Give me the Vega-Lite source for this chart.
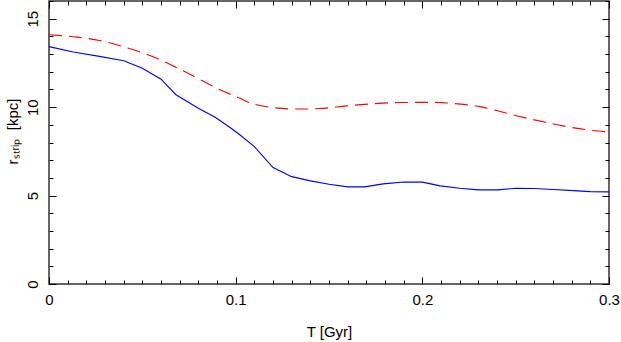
{
  "$schema": "https://vega.github.io/schema/vega-lite/v6.json",
  "width": 560,
  "height": 283,
  "autosize": "none",
  "padding": {"left": 49, "top": 1, "right": 12, "bottom": 58},
  "background": "white",
  "config": {
    "view": {"stroke": "#333", "strokeWidth": 1.5},
    "font": "Liberation Sans",
    "axis": {
      "grid": false,
      "domain": false,
      "tickColor": "#000",
      "tickWidth": 1,
      "labelFont": "Liberation Sans",
      "labelFontSize": 15,
      "labelColor": "#000",
      "titleFont": "Liberation Sans",
      "titleFontSize": 15,
      "titleFontWeight": "normal",
      "titleColor": "#000"
    }
  },
  "datasets": {
    "blue": [
      {"t": 0, "r": 13.42}, {"t": 0.013, "r": 13.12}, {"t": 0.027, "r": 12.87},
      {"t": 0.04, "r": 12.62}, {"t": 0.05, "r": 12.2}, {"t": 0.06, "r": 11.58},
      {"t": 0.068, "r": 10.7}, {"t": 0.08, "r": 9.94}, {"t": 0.089, "r": 9.43},
      {"t": 0.097, "r": 8.85}, {"t": 0.102, "r": 8.45}, {"t": 0.11, "r": 7.77},
      {"t": 0.12, "r": 6.58}, {"t": 0.13, "r": 6.07}, {"t": 0.14, "r": 5.83},
      {"t": 0.15, "r": 5.64}, {"t": 0.16, "r": 5.49}, {"t": 0.169, "r": 5.49},
      {"t": 0.179, "r": 5.66}, {"t": 0.19, "r": 5.77}, {"t": 0.2, "r": 5.76},
      {"t": 0.2095, "r": 5.55}, {"t": 0.22, "r": 5.41}, {"t": 0.23, "r": 5.32},
      {"t": 0.2405, "r": 5.32}, {"t": 0.25, "r": 5.41}, {"t": 0.26, "r": 5.4},
      {"t": 0.27, "r": 5.34}, {"t": 0.281, "r": 5.28}, {"t": 0.29, "r": 5.22},
      {"t": 0.3, "r": 5.21}
    ],
    "red": [
      {"t": 0, "r": 14.09}, {"t": 0.015, "r": 13.96}, {"t": 0.027, "r": 13.77},
      {"t": 0.038, "r": 13.47}, {"t": 0.049, "r": 13.11}, {"t": 0.0595, "r": 12.68},
      {"t": 0.07, "r": 12.15}, {"t": 0.081, "r": 11.55}, {"t": 0.0916, "r": 10.98},
      {"t": 0.102, "r": 10.51}, {"t": 0.108, "r": 10.23}, {"t": 0.118, "r": 10.0},
      {"t": 0.1327, "r": 9.89}, {"t": 0.145, "r": 9.92}, {"t": 0.1595, "r": 10.07},
      {"t": 0.1737, "r": 10.19}, {"t": 0.188, "r": 10.26}, {"t": 0.204, "r": 10.27},
      {"t": 0.2184, "r": 10.19}, {"t": 0.2309, "r": 10.03}, {"t": 0.2416, "r": 9.75},
      {"t": 0.252, "r": 9.47}, {"t": 0.2648, "r": 9.17}, {"t": 0.2773, "r": 8.9},
      {"t": 0.288, "r": 8.72}, {"t": 0.297, "r": 8.62}, {"t": 0.3, "r": 8.6}
    ]
  },
  "layer": [
    {
      "data": {"name": "blue"},
      "mark": {"type": "line", "color": "#0000ff", "strokeWidth": 1.1},
      "encoding": {
        "x": {"field": "t", "type": "quantitative",
          "scale": {"domain": [0, 0.3], "nice": false, "zero": false},
          "axis": {"orient": "bottom", "values": [0, 0.1, 0.2, 0.3], "format": "~g",
            "tickSize": -7, "labelPadding": 15, "labelFlush": false, "labelOverlap": false,
            "title": "T [Gyr]", "titleY": 52.7, "titleBaseline": "alphabetic"}},
        "y": {"field": "r", "type": "quantitative",
          "scale": {"domain": [0, 16], "nice": false, "zero": false},
          "axis": {"orient": "left", "values": [0, 5, 10, 15],
            "tickSize": -7, "labelPadding": 19, "labelAngle": -90, "labelAlign": "center",
            "labelBaseline": "alphabetic", "labelFlush": false, "labelOverlap": false,
            "title": "rₛₜᵣᵢₚ\u00a0\u00a0[kpc]", "titleAngle": -90, "titleX": -32, "titleY": 130,
            "titleAlign": "center", "titleBaseline": "alphabetic"}}
      }
    },
    {
      "data": {"name": "red"},
      "mark": {"type": "line", "color": "#ff0000", "strokeWidth": 1.1, "strokeDash": [13, 7], "interpolate": "monotone"},
      "encoding": {
        "x": {"field": "t", "type": "quantitative",
          "axis": {"orient": "bottom",
            "values": [0.01,0.02,0.03,0.04,0.05,0.06,0.07,0.08,0.09,0.11,0.12,0.13,0.14,0.15,0.16,0.17,0.18,0.19,0.21,0.22,0.23,0.24,0.25,0.26,0.27,0.28,0.29],
            "tickSize": -4, "labels": false, "title": null}},
        "y": {"field": "r", "type": "quantitative",
          "axis": {"orient": "left", "values": [1,2,3,4,6,7,8,9,11,12,13,14,16],
            "tickSize": -4, "labels": false, "title": null}}
      }
    },
    {
      "data": {"name": "blue"},
      "mark": {"type": "line", "strokeOpacity": 0},
      "encoding": {
        "x": {"field": "t", "type": "quantitative",
          "axis": {"orient": "top", "values": [0, 0.1, 0.2, 0.3], "tickSize": -7, "labels": false, "title": null}},
        "y": {"field": "r", "type": "quantitative",
          "axis": {"orient": "right", "values": [0, 5, 10, 15], "tickSize": -7, "labels": false, "title": null}}
      }
    },
    {
      "data": {"name": "red"},
      "mark": {"type": "line", "strokeOpacity": 0},
      "encoding": {
        "x": {"field": "t", "type": "quantitative",
          "axis": {"orient": "top",
            "values": [0.01,0.02,0.03,0.04,0.05,0.06,0.07,0.08,0.09,0.11,0.12,0.13,0.14,0.15,0.16,0.17,0.18,0.19,0.21,0.22,0.23,0.24,0.25,0.26,0.27,0.28,0.29],
            "tickSize": -4, "labels": false, "title": null}},
        "y": {"field": "r", "type": "quantitative",
          "axis": {"orient": "right", "values": [1,2,3,4,6,7,8,9,11,12,13,14,16], "tickSize": -4, "labels": false, "title": null}}
      }
    }
  ],
  "resolve": {"axis": {"x": "independent", "y": "independent"}}
}
